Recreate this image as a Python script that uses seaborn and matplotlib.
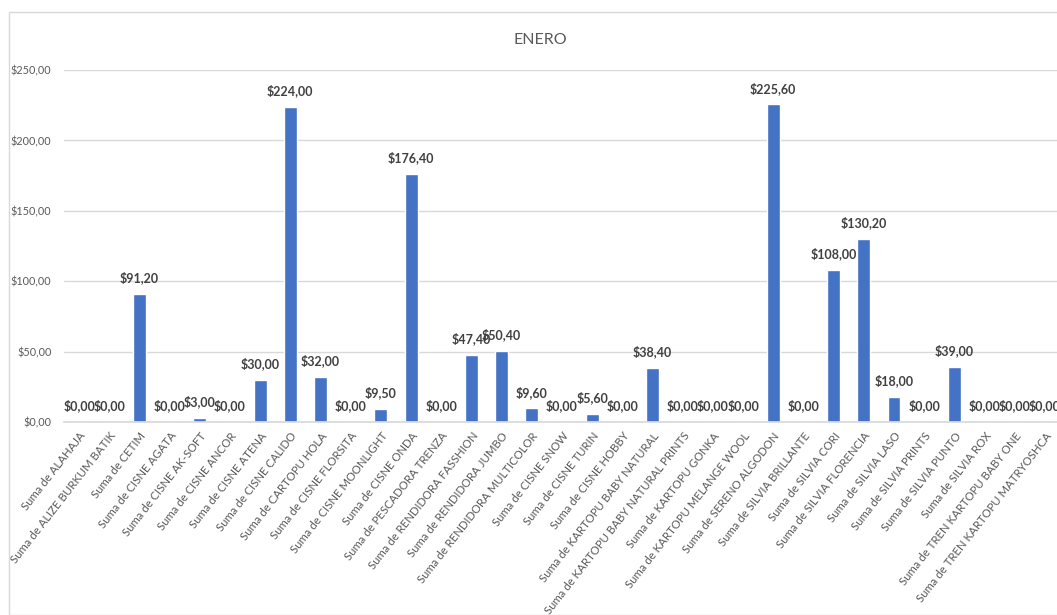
import matplotlib
matplotlib.use("Agg")
import matplotlib.pyplot as plt
import seaborn as sns
import pandas as pd
from matplotlib.patches import Rectangle

categories = [
    "Suma de ALAHAJA", "Suma de ALIZE BURKUM BATIK", "Suma de CETIM", "Suma de CISNE AGATA",
    "Suma de CISNE AK-SOFT", "Suma de CISNE ANCOR", "Suma de CISNE ATENA", "Suma de CISNE CALIDO",
    "Suma de CARTOPU HOLA", "Suma de CISNE FLORSITA", "Suma de CISNE MOONLIGHT", "Suma de CISNE ONDA",
    "Suma de PESCADORA TRENZA", "Suma de RENDIDORA FASSHION", "Suma de RENDIDORA JUMBO",
    "Suma de RENDIDORA MULTICOLOR", "Suma de CISNE SNOW", "Suma de CISNE TURIN", "Suma de CISNE HOBBY",
    "Suma de KARTOPU BABY NATURAL", "Suma de KARTOPU BABY NATURAL PRINTS", "Suma de KARTOPU GONKA",
    "Suma de KARTOPU MELANGE WOOL", "Suma de SERENO ALGODON", "Suma de SILVIA BRILLANTE",
    "Suma de SILVIA CORI", "Suma de SILVIA FLORENCIA", "Suma de SILVIA LASO", "Suma de SILVIA PRINTS",
    "Suma de SILVIA PUNTO", "Suma de SILVIA ROX", "Suma de TREN KARTOPU BABY ONE",
    "Suma de TREN KARTOPU MATRYOSHCA",
]
values = [
    0.00, 0.00, 91.20, 0.00, 3.00, 0.00, 30.00, 224.00, 32.00, 0.00, 9.50, 176.40,
    0.00, 47.40, 50.40, 9.60, 0.00, 5.60, 0.00, 38.40, 0.00, 0.00, 0.00, 225.60,
    0.00, 108.00, 130.20, 18.00, 0.00, 39.00, 0.00, 0.00, 0.00,
]
y_ticks = [0, 50, 100, 150, 200, 250]
title = "ENERO"

df = pd.DataFrame({"cat": categories, "val": values})

sns.set_theme(style="white")
plt.rcParams["font.family"] = ["Lato", "DejaVu Sans"]

W, H = 1057, 615
fig = plt.figure(figsize=(W / 100, H / 100), dpi=100)
fig.patch.set_facecolor("white")

# outer chart border
fig.patches.append(Rectangle((9 / W, 0), 1.0, 1 - 12 / H, transform=fig.transFigure,
                             fill=False, edgecolor="#D9D9D9", linewidth=1.0))

ax = fig.add_axes([64 / W, 1 - 422 / H, 996 / W, (422 - 70) / H])
sns.barplot(data=df, x="cat", y="val", color="#4472C4", saturation=1, width=0.43, ax=ax)

ax.set_ylim(0, 250)
ax.set_xlim(-0.5, len(categories) - 0.5)
ax.set_yticks(y_ticks)
ax.set_yticklabels([f"${v:,.2f}".replace(".", ",") for v in y_ticks], color="#595959", fontsize=7.8)
ax.yaxis.grid(True, color="#D9D9D9", linewidth=1)
ax.set_axisbelow(True)
for s in ["top", "right", "left"]:
    ax.spines[s].set_visible(False)
ax.spines["bottom"].set_color("#D9D9D9")
ax.tick_params(axis="y", length=0, pad=9)
ax.tick_params(axis="x", length=0, pad=6)
ax.set_xlabel("")
ax.set_ylabel("")
ax.set_xticks(range(len(categories)))
ax.set_xticklabels(categories, rotation=52, ha="right", rotation_mode="anchor",
                   color="#595959", fontsize=8.2)

for c in ax.containers:
    labels = [f"${v:.2f}".replace(".", ",") for v in c.datavalues]
    ax.bar_label(c, labels=labels, padding=7, fontsize=9, fontweight="bold", color="#404040")

fig.text(540 / W, 1 - 40 / H, title, ha="center", va="center", fontsize=11.5, color="#595959")

fig.savefig("out.png", dpi=100)
